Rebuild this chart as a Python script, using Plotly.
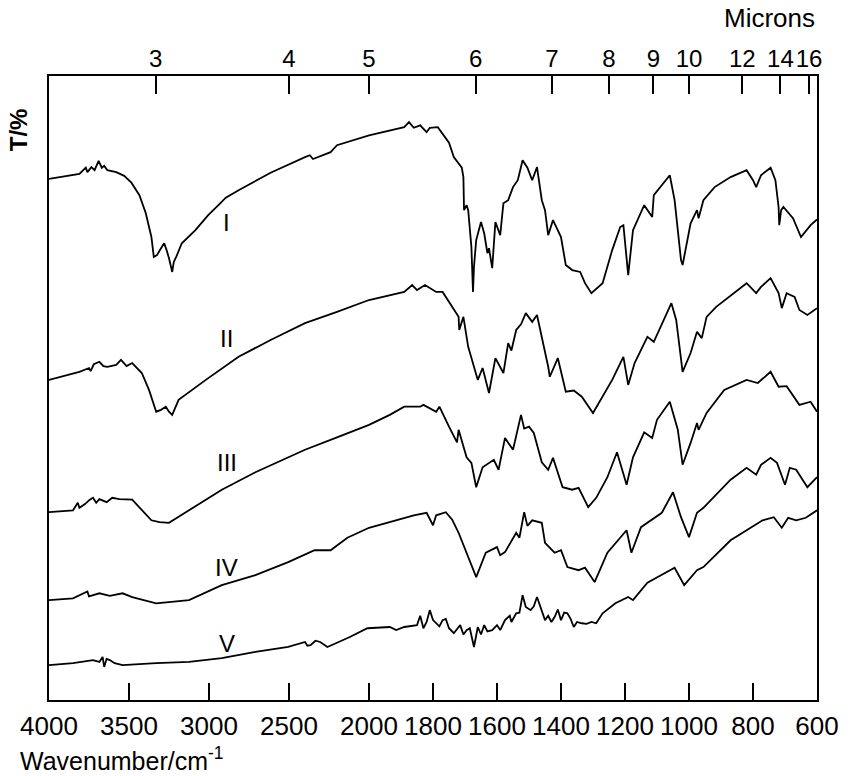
import numpy as np
import plotly.graph_objects as go

# ---------------- data (wavenumber in cm^-1, transmittance in arbitrary % units, offset spectra) ----
wn_I = [4000, 3870, 3810, 3770, 3760, 3735, 3715, 3690, 3670, 3655, 3635, 3580, 3530, 3485, 3435, 3395,
        3360, 3345, 3325, 3300, 3280, 3265, 3250, 3230, 3220, 3205, 3170, 3085, 3005, 2930, 2895, 2815,
        2615, 2400, 2370, 2350, 2240, 2200, 2000, 1890, 1875, 1860, 1840, 1820, 1810, 1785, 1750, 1735,
        1710, 1705, 1703, 1695, 1690, 1680, 1675, 1672, 1665, 1650, 1640, 1630, 1625, 1615, 1605, 1590,
        1580, 1565, 1550, 1535, 1520, 1505, 1490, 1475, 1460, 1450, 1440, 1425, 1400, 1385, 1365, 1340,
        1325, 1305, 1270, 1240, 1215, 1205, 1190, 1175, 1140, 1115, 1110, 1060, 1045, 1025, 1020, 995,
        975, 970, 955, 920, 870, 820, 800, 790, 775, 745, 730, 720, 718, 712, 705, 675, 650, 620, 605, 600]
T_I = [83.5, 84.1, 84.3, 85.3, 84.6, 85.4, 84.9, 86.4, 85.3, 85.6, 84.9, 84.6, 84.0, 82.9, 80.9, 78.0,
       74.2, 71.0, 71.3, 72.4, 73.2, 72.1, 70.8, 68.6, 70.2, 71.0, 73.2, 75.3, 77.7, 79.6, 80.5, 81.7,
       84.5, 87.0, 87.3, 86.7, 87.8, 88.9, 90.5, 91.8, 92.6, 91.7, 92.1, 91.0, 91.7, 91.8, 89.3, 87.0,
       85.3, 83.8, 78.5, 79.3, 78.5, 72.6, 65.4, 69.4, 73.7, 76.6, 74.8, 71.6, 72.4, 69.2, 76.6, 74.5,
       79.6, 80.1, 82.2, 83.3, 86.5, 85.3, 83.3, 85.4, 80.1, 78.5, 74.5, 76.9, 74.2, 69.7, 68.9, 68.6,
       66.8, 65.2, 66.8, 72.1, 75.8, 76.1, 68.1, 75.3, 79.3, 77.4, 80.9, 84.1, 80.1, 70.5, 69.7, 76.4,
       78.5, 77.2, 80.1, 82.2, 83.8, 84.9, 83.3, 82.2, 84.1, 85.3, 83.3, 79.0, 76.1, 78.5, 79.0, 77.2,
       74.2, 76.1, 76.9, 77.0]

wn_II = [4000, 3890, 3810, 3750, 3740, 3720, 3685, 3660, 3635, 3580, 3550, 3515, 3480, 3420, 3375, 3330,
         3300, 3270, 3250, 3230, 3205, 3190, 3020, 2815, 2615, 2400, 2200, 2000, 1890, 1865, 1850, 1825,
         1790, 1770, 1720, 1718, 1705, 1690, 1660, 1645, 1625, 1605, 1580, 1565, 1555, 1540, 1525, 1510,
         1490, 1475, 1440, 1435, 1410, 1385, 1360, 1335, 1300, 1240, 1205, 1190, 1170, 1130, 1110, 1055,
         1040, 1020, 995, 975, 960, 945, 915, 820, 790, 775, 745, 720, 710, 695, 670, 655, 630, 600]
T_II = [51.3, 52.1, 52.6, 53.2, 52.7, 53.8, 54.2, 53.5, 53.4, 53.7, 54.5, 53.5, 54.0, 52.4, 49.7, 46.2,
        46.5, 47.0, 46.2, 45.7, 47.3, 48.1, 51.3, 55.0, 57.7, 60.4, 62.2, 64.1, 65.4, 66.5, 65.7, 66.5,
        65.4, 65.4, 61.4, 59.3, 61.4, 56.6, 51.3, 53.2, 49.2, 54.8, 52.4, 57.2, 56.0, 59.3, 60.2, 62.0,
        60.6, 61.7, 53.4, 51.8, 54.8, 49.4, 49.6, 48.6, 46.0, 51.3, 55.0, 50.5, 54.0, 58.2, 57.4, 63.6,
        60.9, 52.6, 55.6, 59.0, 58.0, 61.4, 63.0, 66.8, 65.2, 66.2, 67.6, 65.2, 62.8, 65.2, 64.6, 62.5,
        61.7, 62.8]

wn_III = [4000, 3850, 3820, 3810, 3775, 3745, 3725, 3705, 3685, 3640, 3605, 3560, 3480, 3435, 3360, 3310,
          3250, 3125, 2920, 2710, 2505, 2400, 2200, 2000, 1935, 1890, 1840, 1830, 1790, 1780, 1750, 1725,
          1720, 1695, 1680, 1665, 1645, 1610, 1595, 1575, 1550, 1525, 1515, 1500, 1485, 1460, 1440, 1425,
          1395, 1365, 1345, 1315, 1290, 1255, 1225, 1195, 1175, 1140, 1115, 1100, 1060, 1035, 1020, 995,
          975, 970, 945, 890, 820, 785, 745, 720, 695, 655, 620, 600]
T_III = [30.1, 30.4, 31.6, 30.8, 31.4, 32.1, 32.4, 31.6, 32.2, 31.7, 32.4, 32.2, 32.1, 30.9, 28.8, 28.5,
         28.4, 30.4, 33.7, 36.5, 38.8, 40.1, 42.1, 44.1, 45.7, 47.0, 47.0, 47.3, 46.2, 47.0, 43.8, 41.3,
         43.3, 38.9, 38.0, 34.1, 37.3, 38.5, 36.9, 42.0, 40.1, 45.7, 43.5, 43.8, 42.8, 38.1, 36.9, 38.8,
         34.1, 33.7, 34.0, 30.9, 32.4, 35.7, 39.7, 34.5, 38.9, 42.9, 42.0, 44.9, 47.8, 43.3, 37.7, 41.2,
         44.4, 43.3, 46.0, 49.7, 51.3, 50.8, 52.6, 50.2, 50.3, 47.3, 47.8, 46.2]

wn_IV = [4000, 3850, 3760, 3750, 3685, 3620, 3540, 3480, 3330, 3230, 3125, 2920, 2710, 2505, 2340, 2240,
         2135, 2000, 1890, 1860, 1820, 1800, 1790, 1760, 1740, 1720, 1665, 1635, 1600, 1590, 1575, 1540,
         1530, 1515, 1505, 1490, 1460, 1450, 1420, 1400, 1380, 1345, 1325, 1295, 1255, 1195, 1180, 1150,
         1085, 1050, 1025, 1000, 975, 955, 870, 820, 790, 775, 745, 725, 700, 685, 665, 630, 600]
T_IV = [16.0, 16.3, 17.4, 16.6, 17.1, 16.7, 17.1, 16.5, 15.5, 15.7, 16.0, 18.4, 20.0, 22.1, 24.0, 24.0,
        26.0, 27.6, 29.2, 29.6, 30.0, 28.0, 29.6, 30.1, 28.9, 26.8, 19.7, 23.6, 24.5, 23.2, 23.7, 26.8,
        26.0, 30.1, 27.9, 28.8, 28.4, 25.2, 23.6, 24.0, 21.3, 20.8, 21.2, 18.9, 23.6, 27.2, 23.6, 27.7,
        30.0, 33.3, 29.3, 26.1, 30.0, 30.8, 35.3, 37.2, 36.1, 37.7, 38.8, 38.0, 34.5, 37.2, 36.9, 34.1,
        35.7]

wn_V = [4000, 3850, 3725, 3685, 3665, 3655, 3640, 3620, 3590, 3540, 3330, 3125, 2920, 2710, 2505, 2400,
        2385, 2365, 2335, 2305, 2260, 2120, 2010, 1935, 1915, 1890, 1850, 1840, 1830, 1820, 1810, 1800,
        1780, 1770, 1760, 1750, 1735, 1715, 1705, 1695, 1685, 1672, 1660, 1650, 1640, 1630, 1615, 1600,
        1590, 1575, 1560, 1555, 1540, 1530, 1520, 1510, 1495, 1485, 1475, 1465, 1450, 1440, 1430, 1420,
        1410, 1400, 1390, 1380, 1370, 1360, 1350, 1335, 1320, 1305, 1290, 1270, 1230, 1190, 1175, 1130,
        1045, 1015, 975, 955, 870, 820, 770, 735, 710, 690, 665, 635, 600]
T_V = [5.6, 5.9, 6.4, 6.1, 6.9, 5.3, 6.6, 6.4, 5.9, 5.6, 5.9, 6.1, 6.7, 7.7, 8.5, 9.3,
       8.7, 8.8, 9.5, 9.3, 8.5, 10.1, 11.5, 11.7, 11.2, 11.7, 12.0, 13.5, 11.5, 12.5, 14.4, 12.8,
       11.8, 12.8, 13.0, 11.5, 10.7, 12.0, 10.5, 11.2, 11.5, 8.5, 11.7, 10.5, 12.0, 11.0, 11.2, 12.0,
       11.2, 12.8, 13.5, 12.5, 13.9, 14.0, 16.8, 14.9, 14.4, 15.0, 16.5, 15.0, 12.8, 13.5, 12.5, 13.3,
       14.5, 12.8, 14.0, 13.9, 13.0, 11.7, 12.5, 12.3, 12.2, 12.5, 12.3, 13.9, 15.5, 16.5, 16.0, 18.8,
       21.2, 18.4, 20.8, 21.3, 25.6, 27.2, 28.8, 29.3, 27.6, 29.2, 28.8, 29.2, 30.4]

series = [("I", wn_I, T_I), ("II", wn_II, T_II), ("III", wn_III, T_III),
          ("IV", wn_IV, T_IV), ("V", wn_V, T_V)]

label_wn = 2890
label_T = [76.6, 58.0, 38.0, 21.3, 9.1]

wn_ticks = [4000, 3500, 3000, 2500, 2000, 1800, 1600, 1400, 1200, 1000, 800, 600]
micron_ticks = [3, 4, 5, 6, 7, 8, 9, 10, 12, 14, 16]


# ---------------- grating-change scale: 4000-2000 at 1x, 2000-600 at 2x ----
def xpos(wn):
    wn = np.asarray(wn, dtype=float)
    return np.where(wn >= 2000, 4000 - wn, 2000 + 2 * (2000 - wn))


FONT = "Liberation Sans, Arial, sans-serif"
fig = go.Figure()
for name, wn, T in series:
    fig.add_trace(go.Scatter(x=xpos(wn), y=T, mode="lines", name=name,
                             line=dict(color="black", width=1.8), showlegend=False))

# helper trace for the top (microns) axis
mic_pos = xpos(10000.0 / np.array(micron_ticks))
fig.add_trace(go.Scatter(x=mic_pos, y=[50] * len(micron_ticks), xaxis="x2",
                         mode="markers", marker=dict(opacity=0, size=1),
                         showlegend=False, hoverinfo="skip"))

for (name, _, _), ty in zip(series, label_T):
    fig.add_annotation(x=float(xpos(label_wn)), y=ty, text=name, showarrow=False,
                       font=dict(family=FONT, size=24, color="black"))

fig.update_layout(
    width=851, height=776,
    margin=dict(l=49, r=27, t=76, b=76),
    paper_bgcolor="white", plot_bgcolor="white",
    xaxis=dict(range=[0, 4800], tickvals=xpos(wn_ticks), ticktext=[str(v) for v in wn_ticks],
               ticks="inside", ticklen=17, tickwidth=1.5, tickcolor="black", tickangle=0,
               showline=True, linecolor="black", linewidth=1.5, showgrid=False, zeroline=False,
               tickfont=dict(family=FONT, size=26, color="black"), ticklabelstandoff=2),
    xaxis2=dict(range=[0, 4800], overlaying="x", side="top", anchor="y",
                tickvals=mic_pos, ticktext=[str(v) for v in micron_ticks],
                ticks="inside", ticklen=18, tickwidth=1.5, tickcolor="black", tickangle=0,
                showline=True, linecolor="black", linewidth=1.5, showgrid=False, zeroline=False,
                tickfont=dict(family=FONT, size=24, color="black"), ticklabelstandoff=-2),
    yaxis=dict(range=[0, 100], showticklabels=False, ticks="", showgrid=False, zeroline=False,
               showline=True, mirror=True, linecolor="black", linewidth=1.5),
)

fig.add_annotation(xref="paper", yref="paper", x=1.0, y=(700 - 18) / 624, xanchor="right",
                   yanchor="middle", text="Microns", showarrow=False,
                   font=dict(family=FONT, size=26, color="black"))
fig.add_annotation(xref="paper", yref="paper", x=(18 - 49) / 775, y=(700 - 759) / 624,
                   xanchor="left", yanchor="middle", text="Wavenumber/cm<sup>-1</sup>",
                   showarrow=False, font=dict(family=FONT, size=25, color="black"))
fig.add_annotation(xref="paper", yref="paper", x=(18 - 49) / 775, y=(700 - 130) / 624,
                   xanchor="center", yanchor="middle", text="<b>T/%</b>", textangle=-90,
                   showarrow=False, font=dict(family=FONT, size=24, color="black"))

fig.write_html("out.html")
